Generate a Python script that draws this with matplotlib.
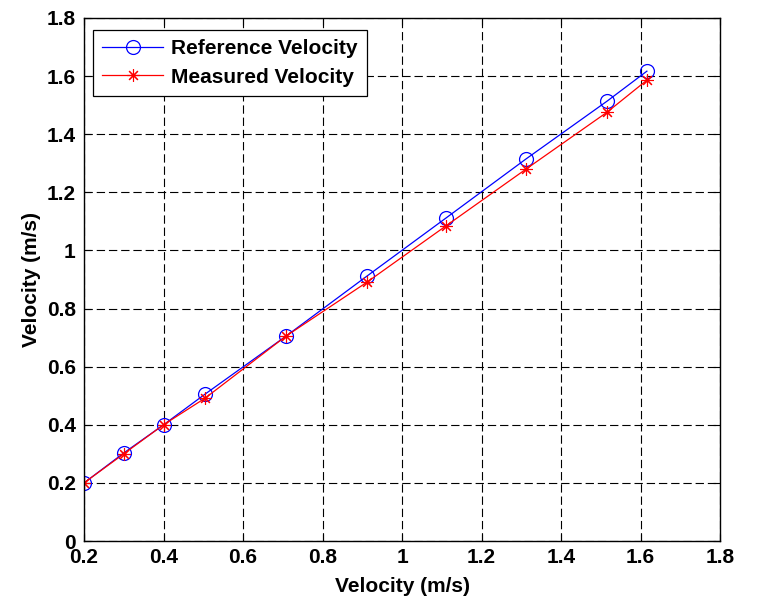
import matplotlib
matplotlib.use("Agg")
import matplotlib.pyplot as plt

x_vals = [0.2, 0.3, 0.4, 0.505, 0.708, 0.912, 1.11, 1.312, 1.516, 1.616]
ref_vel = [0.2, 0.303, 0.4, 0.506, 0.705, 0.912, 1.111, 1.315, 1.514, 1.617]
meas_vel = [0.2, 0.3, 0.4, 0.492, 0.705, 0.891, 1.084, 1.28, 1.476, 1.586]
xticks = [0.2, 0.4, 0.6, 0.8, 1.0, 1.2, 1.4, 1.6, 1.8]
xtick_labels = ["0.2", "0.4", "0.6", "0.8", "1", "1.2", "1.4", "1.6", "1.8"]
yticks = [0, 0.2, 0.4, 0.6, 0.8, 1.0, 1.2, 1.4, 1.6, 1.8]
ytick_labels = ["0", "0.2", "0.4", "0.6", "0.8", "1", "1.2", "1.4", "1.6", "1.8"]

plt.rcParams['font.family'] = ['Liberation Sans', 'DejaVu Sans']

fig = plt.figure(figsize=(7.66, 6.12), dpi=100)
ax = fig.add_axes([0.1097, 0.116, 0.8303, 0.8546])

ax.plot(x_vals, ref_vel, color='#0000ff', lw=0.9, marker='o', ms=10,
        mfc='none', mec='#0000ff', mew=0.9, label='Reference Velocity')
ax.plot(x_vals, meas_vel, color='#ff0000', lw=0.9, marker=(8, 2, 0), ms=9,
        mfc='none', mec='#ff0000', mew=0.8, label='Measured Velocity')

ax.set_xlim(0.2, 1.8)
ax.set_ylim(0, 1.8)
ax.set_xticks(xticks)
ax.set_xticklabels(xtick_labels)
ax.set_yticks(yticks)
ax.set_yticklabels(ytick_labels)
ax.tick_params(direction='in', length=5, width=0.8, top=True, right=True,
               labelsize=15)
ax.tick_params(axis='x', pad=5)
ax.tick_params(axis='y', pad=6)
for lab in ax.get_xticklabels() + ax.get_yticklabels():
    lab.set_fontweight('bold')
ax.grid(True, color='black', linestyle=(0, (7.5, 3.5)), lw=0.8)
for s in ax.spines.values():
    s.set_linewidth(1.0)

ax.set_xlabel('Velocity (m/s)', fontsize=15, fontweight='bold', labelpad=7)
ax.set_ylabel('Velocity (m/s)', fontsize=15, fontweight='bold', labelpad=4)

leg = ax.legend(loc='upper left', fancybox=False, framealpha=1, edgecolor='black',
                prop={'weight': 'bold', 'size': 15}, handlelength=2.9,
                handletextpad=0.4, borderpad=0.45, labelspacing=0.45,
                borderaxespad=0, bbox_to_anchor=(0.014, 0.977))
leg.get_frame().set_linewidth(0.9)

fig.savefig('out.png', dpi=100)
